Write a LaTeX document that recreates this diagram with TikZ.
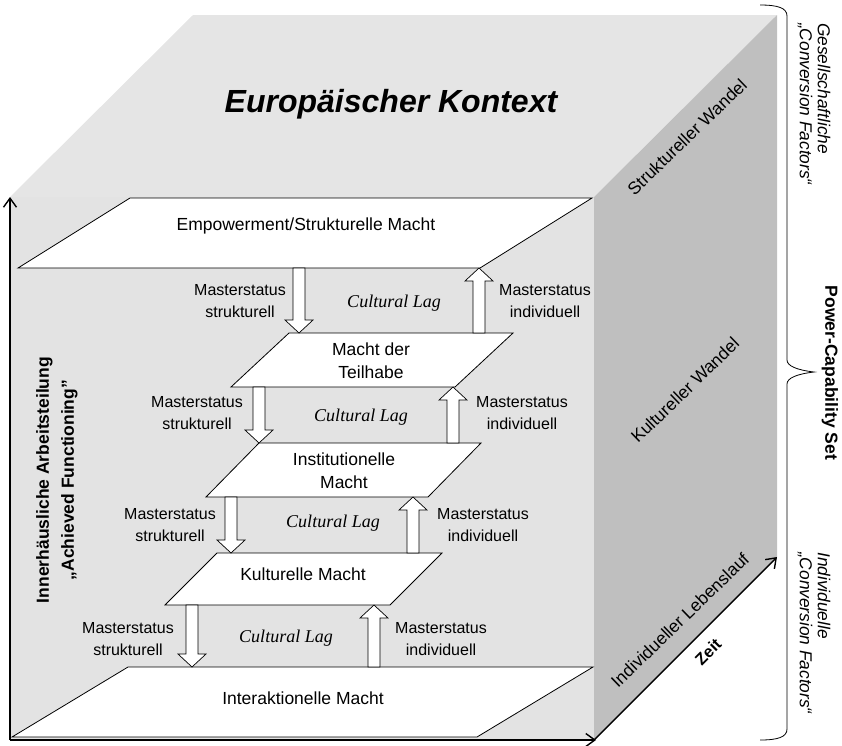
\documentclass[tikz,border=0pt]{standalone}
\usepackage{fontspec}
\setmainfont{Liberation Sans}
\newfontfamily\timesfont{Liberation Serif}
\usepackage{tikz}
\usetikzlibrary{arrows.meta, calc}
\newcommand{\ebene}[6]{% Name, unten links x, unten y, oben links x, oben y, Breite
\draw[ebene] (#2,#3) -- (#2+#6,#3) -- (#4+#6,#5) -- (#4,#5) -- cycle;
\coordinate (#1-u) at (#2,#3);
\coordinate (#1-o) at (#4,#5);
}
\newcommand{\pfeilAb}[3]{% x, obere Ebene, untere Ebene
\draw[blockpfeil] let \p1 = (#2), \p2 = (#3) in
  (#1pt-6pt,\y1) -- (#1pt-6pt,\y2+13pt) -- (#1pt-14pt,\y2+13pt) -- (#1pt,\y2)
  -- (#1pt+14pt,\y2+13pt) -- (#1pt+6pt,\y2+13pt) -- (#1pt+6pt,\y1) -- cycle;
}
\newcommand{\pfeilAuf}[3]{% x, untere Ebene, obere Ebene
\draw[blockpfeil] let \p1 = (#2), \p2 = (#3) in
  (#1pt-6pt,\y1) -- (#1pt-6pt,\y2-13pt) -- (#1pt-14pt,\y2-13pt) -- (#1pt,\y2)
  -- (#1pt+14pt,\y2-13pt) -- (#1pt+6pt,\y2-13pt) -- (#1pt+6pt,\y1) -- cycle;
}
\tikzset{
  achse/.style = {line width = 1.4pt, -{Straight Barb[length = 9pt, width = 13pt]}},
  blockpfeil/.style = {draw, fill = white, line width = 0.7pt},
  ebene/.style = {draw, fill = white, line width = 0.8pt, line join = miter},
  ebenetext/.style = {align = center, font = \fontsize{17.5}{23}\selectfont},
  master/.style = {align = center, font = \fontsize{16}{21.5}\selectfont},
  lag/.style = {font = \timesfont\itshape\fontsize{18}{22}\selectfont},
  wand/.style = {rotate = 44, font = \fontsize{17.5}{20}\selectfont},
  seitlich/.style = {rotate = -90, align = left, inner sep = 0pt, font = \itshape\fontsize{17.3}{18}\selectfont}
}
\begin{document}
\begin{tikzpicture}[x = 1pt, y = -1pt]
    % Parameter
    \pgfmathsetmacro{\xl}{10};
    \pgfmathsetmacro{\xr}{594};
    \pgfmathsetmacro{\yo}{197};
    \pgfmathsetmacro{\yu}{740};
    \pgfmathsetmacro{\t}{183};
    \useasboundingbox (0,0) rectangle (842,745);
    % Wuerfel
    \fill[gray!22] (\xl,\yo) rectangle (\xr,\yu);
    \fill[gray!20] (\xl,\yo) -- (\xl+\t,\yo-\t+1) -- (\xr+\t,\yo-\t+1) -- (\xr,\yo) -- cycle;
    \fill[gray!50] (\xr,\yo) -- (\xr+\t,\yo-\t+1) -- (\xr+\t,\yu-\t) -- (\xr,\yu) -- cycle;
    \node[font = \bfseries\itshape\fontsize{32}{36}\selectfont] (titel) at (391,104) {Europäischer Kontext};
    % Achsen
    \coordinate (ursprung) at (\xl,\yu);
    \coordinate (hoch) at (\xl,\yo);
    \coordinate (rechts) at (\xr+2,\yu);
    \coordinate (ecke) at (\xr,\yu);
    \coordinate (tief) at (\xr+\t,\yu-\t);
    \draw[achse] (ursprung) -- (hoch);
    \draw[achse] (ursprung) -- (rechts);
    \draw[achse] (ecke) -- (tief);
    \node[rotate = 90, align = center, font = \bfseries\fontsize{17.5}{25}\selectfont] (af) at (57,480)
        {Innerhäusliche Arbeitsteilung\\„Achieved Functioning{\char34}};
    % Seitenflaeche
    \node[wand] (sw) at (687,137) {Struktureller Wandel};
    \node[wand] (kw) at (685,390) {Kultureller Wandel};
    \node[wand] (il) at (680,620) {Individueller Lebenslauf};
    \node[wand, rotate = 1, font = \bfseries\fontsize{16.5}{20}\selectfont] (zeit) at (708,652) {Zeit};
    % Ebenen
    \ebene{empo}{18}{268}{130}{198}{462}
    \ebene{teil}{231}{387}{289}{333}{224}
    \ebene{inst}{206}{497}{259}{443}{222}
    \ebene{kult}{165}{605}{217}{553}{225}
    \ebene{inter}{12}{737}{128}{667}{465}
    \node[ebenetext] (empotext) at (306,226) {Empowerment/Strukturelle Macht};
    \node[ebenetext] (teiltext) at (371,361) {Macht der\\Teilhabe};
    \node[ebenetext] (insttext) at (344,471) {Institutionelle\\Macht};
    \node[ebenetext] (kulttext) at (303,574) {Kulturelle Macht};
    \node[ebenetext] (intertext) at (303,698) {Interaktionelle Macht};
    % Masterstatus
    \pfeilAb{299}{empo-u}{teil-o}
    \pfeilAuf{479}{teil-o}{empo-u}
    \pfeilAb{259}{teil-u}{inst-o}
    \pfeilAuf{453}{inst-o}{teil-u}
    \pfeilAb{231}{inst-u}{kult-o}
    \pfeilAuf{413}{kult-o}{inst-u}
    \pfeilAb{192}{kult-u}{inter-o}
    \pfeilAuf{374}{inter-o}{kult-u}
    \node[master] (ms1) at (240,301) {Masterstatus\\strukturell};
    \node[lag] (cl1) at (394,303) {Cultural Lag};
    \node[master] (mi1) at (545,301) {Masterstatus\\individuell};
    \node[master] (ms2) at (197,413) {Masterstatus\\strukturell};
    \node[lag] (cl2) at (361,417) {Cultural Lag};
    \node[master] (mi2) at (522,413) {Masterstatus\\individuell};
    \node[master] (ms3) at (170,525) {Masterstatus\\strukturell};
    \node[lag] (cl3) at (333,523) {Cultural Lag};
    \node[master] (mi3) at (483,525) {Masterstatus\\individuell};
    \node[master] (ms4) at (128,639) {Masterstatus\\strukturell};
    \node[lag] (cl4) at (286,638) {Cultural Lag};
    \node[master] (mi4) at (441,639) {Masterstatus\\individuell};
    % Klammer
    \draw[line width = 0.8pt] (760,5) .. controls (778,5) and (787,8) .. (787,16) -- (787,360)
        .. controls (787,366) and (797,370) .. (814,372) .. controls (797,374) and (787,378) .. (787,384)
        -- (787,729) .. controls (787,737) and (778,740) .. (760,740);
    \node[seitlich, anchor = west] (gcf) at (814,23) {Gesellschaftliche\\„Conversion Factors“};
    \node[rotate = -90, font = \bfseries\fontsize{17.5}{20}\selectfont] (pcs) at (830,373) {Power-Capability Set};
    \node[seitlich, anchor = west] (icf) at (814,552) {Individuelle\\„Conversion Factors“};
\end{tikzpicture}
\end{document}
